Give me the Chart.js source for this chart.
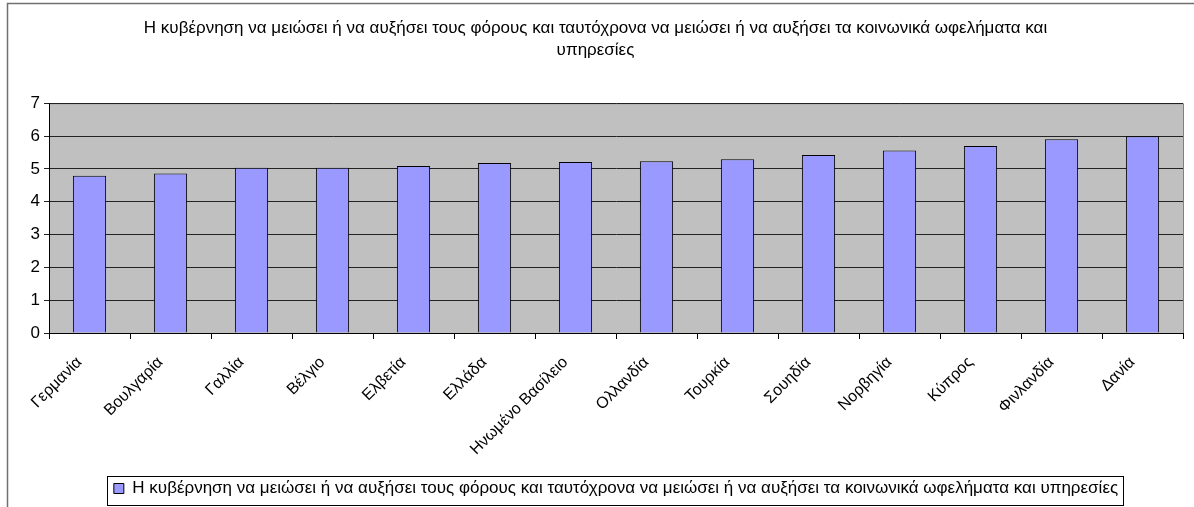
<!DOCTYPE html>
<html>
<head>
<meta charset="utf-8">
<script src="https://cdn.jsdelivr.net/npm/chart.js@4/dist/chart.umd.min.js"></script>
<style>
html,body{margin:0;padding:0;background:#fff}
#wrap{width:1194px;height:507px;position:relative}
</style>
</head>
<body>
<div id="wrap"><canvas id="c"></canvas></div>
<script>
let countries = [
"Γερμανία","Βουλγαρία","Γαλλία","Βέλγιο","Ελβετία","Ελλάδα","Ηνωμένο Βασίλειο",
"Ολλανδία","Τουρκία","Σουηδία","Νορβηγία","Κύπρος","Φινλανδία","Δανία"
]
let values = [4.79,4.86,5.03,5.03,5.09,5.18,5.21,5.23,5.29,5.42,5.56,5.70,5.90,5.99]
let yTicks = [0,1,2,3,4,5,6,7]
let seriesName = "Η κυβέρνηση να μειώσει ή να αυξήσει τους φόρους και ταυτόχρονα να μειώσει ή να αυξήσει τα κοινωνικά ωφελήματα και υπηρεσίες"
let titleLines = [
"Η κυβέρνηση να μειώσει ή να αυξήσει τους φόρους και ταυτόχρονα να μειώσει ή να αυξήσει τα κοινωνικά ωφελήματα και",
"υπηρεσίες"
]

Chart.defaults.font.family = "Arial, 'Liberation Sans', sans-serif"
Chart.defaults.color = "#000"

// grey plot background, frame and legend box
let excelLook = {
id:"excelLook",
beforeDraw(chart){
let ctx = chart.ctx
let a = chart.chartArea
ctx.save()
ctx.fillStyle = "#c0c0c0"
ctx.fillRect(a.left, a.top, a.right-a.left, a.bottom-a.top)
ctx.strokeStyle = "#808080"
ctx.lineWidth = 1
ctx.beginPath()
ctx.moveTo(a.left, a.top+0.5)
ctx.lineTo(a.right+0.5, a.top+0.5)
ctx.lineTo(a.right+0.5, a.bottom)
ctx.stroke()
// outer frame
ctx.strokeStyle = "#707070"
ctx.lineWidth = 1.5
ctx.beginPath()
ctx.moveTo(7.5, 520)
ctx.lineTo(7.5, 3.5)
ctx.lineTo(1200, 3.5)
ctx.stroke()
ctx.restore()
},
afterDraw(chart){
let ctx = chart.ctx
ctx.save()
ctx.strokeStyle = "#000"
ctx.lineWidth = 1
ctx.strokeRect(107.5, 476.5, 1016, 29)
ctx.restore()
}
}

new Chart(document.getElementById("c"),{
type:"bar",
data:{
labels: countries,
datasets:[{
label: seriesName,
data: values,
backgroundColor:"#9999ff",
borderColor:"#000",
borderWidth:1,
categoryPercentage:1,
barPercentage:0.41
}]
},
options:{
responsive:true,
maintainAspectRatio:false,
animation:false,
layout:{padding:{left:8,right:11,top:0,bottom:0}},
plugins:{
title:{
display:true,
text: titleLines,
font:{size:17,weight:"normal",lineHeight:1.3},
padding:{top:17,bottom:42}
},
legend:{
position:"bottom",
fullSize:false,
labels:{
font:{size:17},
boxWidth:10,
boxHeight:10,
padding:8,
color:"#000"
}
},
tooltip:{enabled:false}
},
scales:{
x:{
grid:{display:true,drawOnChartArea:false,offset:true,tickLength:6,color:"#000"},
border:{color:"#000"},
ticks:{font:{size:16},maxRotation:45,minRotation:45,color:"#000",padding:14,labelOffset:-10},
afterFit(s){ s.height = 139 }
},
y:{
min:0,max:7,
afterBuildTicks(s){ s.ticks = yTicks.map(v=>({value:v})) },
grid:{color:"#222",tickLength:5,drawTicks:true},
border:{color:"#000"},
ticks:{font:{size:17},color:"#000",padding:4},
afterFit(s){ s.width = 41 }
}
}
},
plugins:[excelLook]
})
</script>
</body>
</html>
